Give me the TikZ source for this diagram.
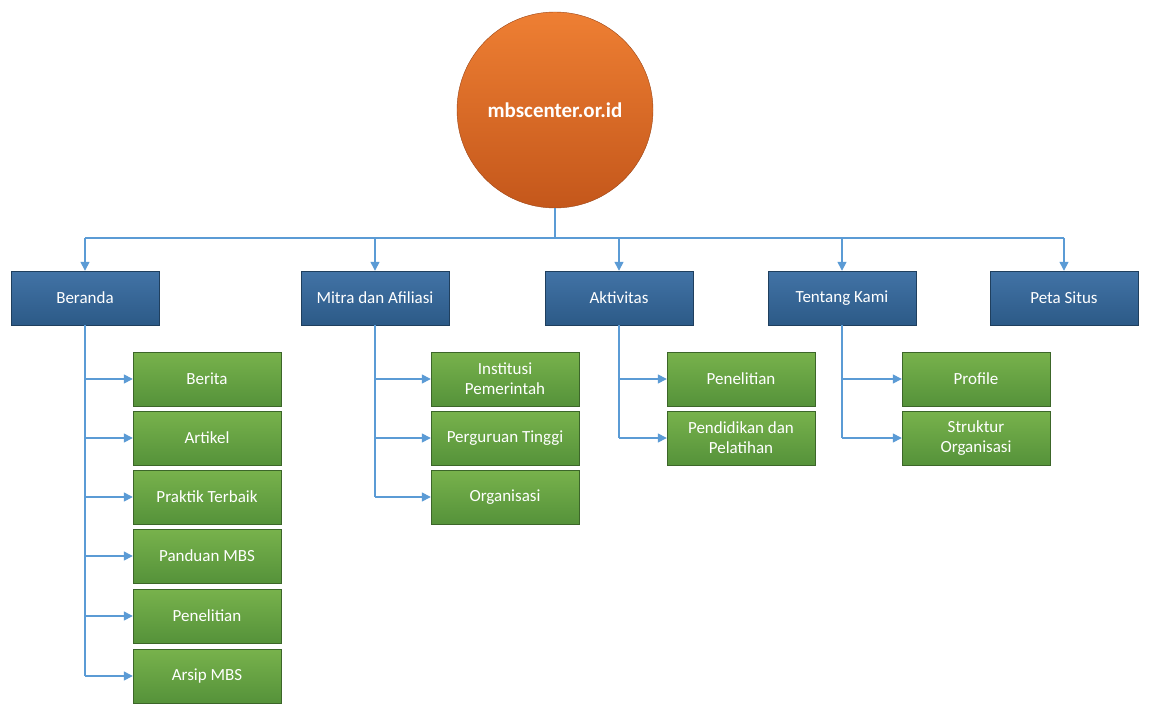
\documentclass[tikz,border=0pt]{standalone}
\usepackage{fontspec}
\setmainfont{Carlito}
\usetikzlibrary{arrows.meta}

\definecolor{hubtop}{HTML}{EE7F33}
\definecolor{hubbot}{HTML}{C4571B}
\definecolor{menutop}{HTML}{4273A6}
\definecolor{menubot}{HTML}{2C5A87}
\definecolor{subtop}{HTML}{78B24C}
\definecolor{subbot}{HTML}{55923A}
\definecolor{wireblue}{HTML}{5B9BD5}

\tikzset{
  hub/.style={circle, minimum size=196pt, draw=hubbot!80!black, top color=hubtop, bottom color=hubbot,
    text=white, font=\fontsize{21}{24}\selectfont\bfseries},
  menu/.style={rectangle, minimum width=148pt, minimum height=54pt, draw=menubot!70!black,
    top color=menutop, bottom color=menubot, text=white, font=\fontsize{17}{20}\selectfont},
  sub/.style={rectangle, minimum width=148pt, minimum height=54pt, draw=subbot!70!black,
    top color=subtop, bottom color=subbot, text=white, align=center,
    font=\fontsize{17}{20}\selectfont},
  wire/.style={draw=wireblue, line width=1.4pt},
  tip/.style={wire, -{Triangle[length=9pt,width=9pt]}}
}

\begin{document}
\begin{tikzpicture}[x=1pt,y=-1pt]
\useasboundingbox (0,0) rectangle (1150,711);
\node[hub] (root) at (555,110) {mbscenter.or.id};
% top level
\node[menu] (beranda) at (85,298) {Beranda};
\node[menu] (mitra) at (375,298) {Mitra dan Afiliasi};
\node[menu] (aktivitas) at (619,298) {Aktivitas};
\node[menu] (tentang) at (842,298) {Tentang Kami};
\node[menu] (peta) at (1064,298) {Peta Situs};
\coordinate (bus) at (555,238);
\draw[wire] (root.south) -- (bus);
\draw[wire] (85,238) -- (1064,238);
\foreach \m in {beranda,mitra,aktivitas,tentang,peta}
  \draw[tip] (bus -| \m.north) -- (\m.north);
% children
\foreach \n/\y/\t in {b1/379/Berita, b2/438/Artikel, b3/497/Praktik Terbaik,
    b4/556/Panduan MBS, b5/616/Penelitian, b6/676/Arsip MBS}
  \node[sub] (\n) at (207,\y) {\t};
\foreach \n/\y/\t in {m1/379/Institusi\\Pemerintah, m2/438/Perguruan Tinggi, m3/497/Organisasi}
  \node[sub] (\n) at (505,\y) {\t};
\foreach \n/\y/\t in {a1/379/Penelitian, a2/438/Pendidikan dan\\Pelatihan}
  \node[sub] (\n) at (741,\y) {\t};
\foreach \n/\y/\t in {t1/379/Profile, t2/438/Struktur\\Organisasi}
  \node[sub] (\n) at (976,\y) {\t};
% connectors
\draw[wire] (beranda.south) -- (beranda.south |- b6.west);
\draw[wire] (mitra.south) -- (mitra.south |- m3.west);
\draw[wire] (aktivitas.south) -- (aktivitas.south |- a2.west);
\draw[wire] (tentang.south) -- (tentang.south |- t2.west);
\foreach \n in {b1,b2,b3,b4,b5,b6}
  \draw[tip] (beranda.south |- \n.west) -- (\n.west);
\foreach \n in {m1,m2,m3}
  \draw[tip] (mitra.south |- \n.west) -- (\n.west);
\foreach \n in {a1,a2}
  \draw[tip] (aktivitas.south |- \n.west) -- (\n.west);
\foreach \n in {t1,t2}
  \draw[tip] (tentang.south |- \n.west) -- (\n.west);
\end{tikzpicture}
\end{document}
